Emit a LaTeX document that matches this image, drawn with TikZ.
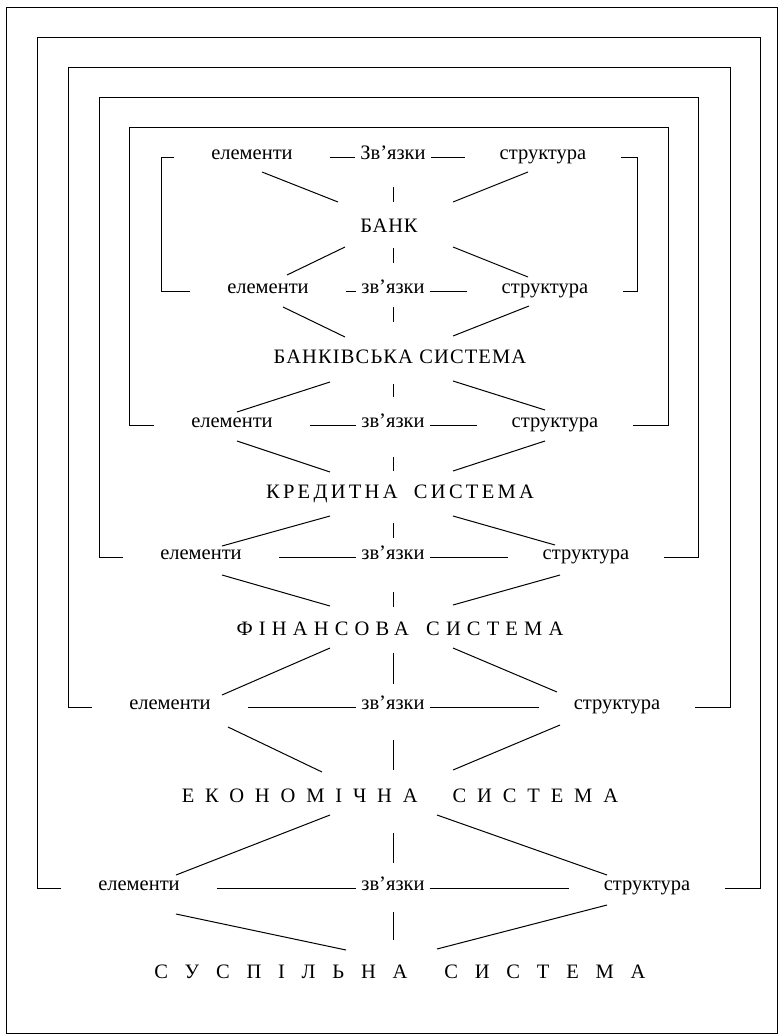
\documentclass[tikz,border=0pt]{standalone}
\usepackage{fontspec}
\setmainfont{Liberation Serif}
\usetikzlibrary{calc}
\tikzset{
  link/.style={line width=1pt},
  word/.style={font=\fontsize{20.5}{24}\selectfont, inner sep=0pt, anchor=mid},
  level/.style={font=\fontsize{20.5}{24}\selectfont, inner sep=0pt, anchor=base}
}
\newcommand{\spaced}[2]{\addfontfeature{LetterSpace=#1}#2}

\begin{document}
\begin{tikzpicture}[x=1pt, y=-1pt]
  \useasboundingbox (0,0) rectangle (780,1036);
  \draw [link] (6,7) rectangle (777,1033);

  % rows: elements, links, structure
  \foreach \k/\y/\ex/\sx in {1/157/252/543, 2/291/268/545, 3/425/232/555,
                             4/557/201/586, 5/707/170/617, 6/888/139/647} {
    \node [word] (e\k) at (\ex, \y) {елементи};
    \node [word] (z\k) at (393, \y) {\ifnum\k=1 З\else з\fi в’язки};
    \node [word] (s\k) at (\sx, \y) {структура};
    \draw [link, shorten <=37pt, shorten >=5pt] (e\k.mid east) -- (z\k.mid west);
    \draw [link, shorten <=5pt, shorten >=35pt] (z\k.mid east) -- (s\k.mid west);
  }

  % levels
  \node [level] (t1) at (389, 232) {\spaced{4}{БАНК}};
  \node [level] (t2) at (400, 363) {\spaced{5.5}{БАНКІВСЬКА СИСТЕМА}};
  \node [level] (t3) at (400, 498) {\spaced{16}{КРЕДИТНА\hspace{8pt} СИСТЕМА}};
  \node [level] (t4) at (400, 635) {\spaced{30}{ФІНАНСОВА\hspace{6pt} СИСТЕМА}};
  \node [level] (t5) at (400, 802) {\spaced{53}{ЕКОНОМІЧНА\hspace{19pt} СИСТЕМА}};
  \node [level] (t6) at (400, 978) {\spaced{82}{СУСПІЛЬНА\hspace{15pt} СИСТЕМА}};

  % brackets
  \draw [link] ([xshift=-37pt]e1.mid west) -| (161, 291) -- ([xshift=-37pt]e2.mid west);
  \draw [link] ([xshift=35pt]s1.mid east) -| (637, 291) -- ([xshift=35pt]s2.mid east);
  \foreach \k/\l/\r/\t in {3/129/668/127, 4/99/698/97, 5/68/730/67, 6/37/760/37}
    \draw [link] ([xshift=-37pt]e\k.mid west) -| (\l, \t) -- (\r, \t) |- ([xshift=35pt]s\k.mid east);

  % bank
  \draw [link] ($(e1.mid)+(10,15)$) -- ($(t1.base)+(-51,-30)$);
  \draw [link] ($(s1.mid)+(-15,15)$) -- ($(t1.base)+(64,-30)$);
  \draw [link] ($(z1.mid)+(0,30)$) -- +(0,15);
  \draw [link] ($(t1.base)+(-44,15)$) -- ($(e2.mid)+(19,-16)$);
  \draw [link] ($(t1.base)+(64,15)$) -- ($(s2.mid)+(-17,-14)$);
  \draw [link] ($(z2.mid)+(0,-43)$) -- +(0,15);

  % banking system
  \draw [link] ($(e2.mid)+(15,16)$) -- ($(t2.base)+(-55,-26)$);
  \draw [link] ($(s2.mid)+(-16,15)$) -- ($(t2.base)+(53,-27)$);
  \draw [link] ($(z2.mid)+(0,16)$) -- +(0,15);
  \draw [link] ($(t2.base)+(-70,19)$) -- ($(e3.mid)+(5,-13)$);
  \draw [link] ($(t2.base)+(53,18)$) -- ($(s3.mid)+(-10,-15)$);
  \draw [link] ($(z3.mid)+(0,-41)$) -- +(0,13);

  % credit system
  \draw [link] ($(e3.mid)+(5,16)$) -- ($(t3.base)+(-70,-26)$);
  \draw [link] ($(s3.mid)+(-10,16)$) -- ($(t3.base)+(53,-27)$);
  \draw [link] ($(z3.mid)+(0,32)$) -- +(0,14);
  \draw [link] ($(t3.base)+(-70,18)$) -- ($(e4.mid)+(21,-11)$);
  \draw [link] ($(t3.base)+(53,18)$) -- ($(s4.mid)+(-31,-12)$);
  \draw [link] ($(z4.mid)+(0,-34)$) -- +(0,15);

  % financial system
  \draw [link] ($(e4.mid)+(21,18)$) -- ($(t4.base)+(-70,-29)$);
  \draw [link] ($(s4.mid)+(-26,18)$) -- ($(t4.base)+(53,-30)$);
  \draw [link] ($(z4.mid)+(0,35)$) -- +(0,15);
  \draw [link] ($(t4.base)+(-70,13)$) -- ($(e5.mid)+(52,-12)$);
  \draw [link] ($(t4.base)+(53,13)$) -- ($(s5.mid)+(-60,-15)$);
  \draw [link] ($(z5.mid)+(0,-54)$) -- +(0,31);

  % economic system
  \draw [link] ($(e5.mid)+(58,20)$) -- ($(t5.base)+(-78,-30)$);
  \draw [link] ($(s5.mid)+(-57,18)$) -- ($(t5.base)+(53,-32)$);
  \draw [link] ($(z5.mid)+(0,33)$) -- +(0,30);
  \draw [link] ($(t5.base)+(-70,13)$) -- ($(e6.mid)+(37,-13)$);
  \draw [link] ($(t5.base)+(37,13)$) -- ($(s6.mid)+(-40,-13)$);
  \draw [link] ($(z6.mid)+(0,-55)$) -- +(0,30);

  % social system
  \draw [link] ($(e6.mid)+(37,26)$) -- ($(t6.base)+(-54,-28)$);
  \draw [link] ($(s6.mid)+(-40,17)$) -- ($(t6.base)+(37,-29)$);
  \draw [link] ($(z6.mid)+(0,24)$) -- +(0,28);
\end{tikzpicture}
\end{document}
